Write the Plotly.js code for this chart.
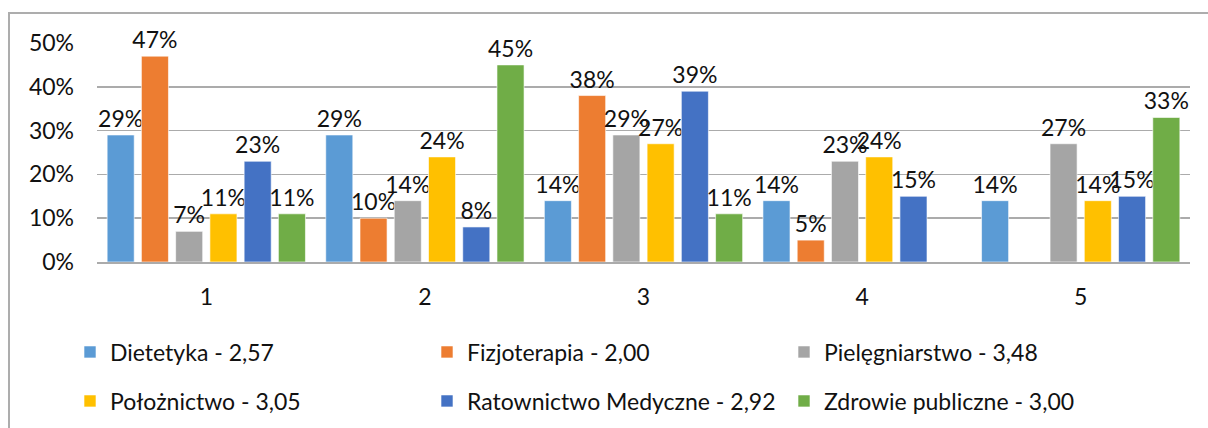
<!DOCTYPE html>
<html>
<head>
<meta charset="utf-8">
<script src="https://cdn.plot.ly/plotly-3.0.1.min.js"></script>
<style>
html,body{margin:0;padding:0;overflow:hidden;background:#fff;}
#wrap{position:relative;width:1208px;height:428px;overflow:hidden;}
#chart{width:1208px;height:428px;}
#frame{position:absolute;left:8px;top:12px;width:1400px;height:600px;border:2px solid #ADADAD;pointer-events:none;}
</style>
</head>
<body>
<div id="wrap"><div id="chart"></div><div id="frame"></div></div>
<script>
var categories = ['1', '2', '3', '4', '5'];
var seriesNames = ['Dietetyka - 2,57', 'Fizjoterapia - 2,00', 'Pielęgniarstwo - 3,48',
                   'Położnictwo - 3,05', 'Ratownictwo Medyczne - 2,92', 'Zdrowie publiczne - 3,00'];
var dietetyka      = [0.29, 0.29, 0.14, 0.14, 0.14];
var fizjoterapia   = [0.47, 0.10, 0.38, 0.05, null];
var pielegniarstwo = [0.07, 0.14, 0.29, 0.23, 0.27];
var poloznictwo    = [0.11, 0.24, 0.27, 0.24, 0.14];
var ratownictwo    = [0.23, 0.08, 0.39, 0.15, 0.15];
var zdrowie        = [0.11, 0.45, 0.11, null, 0.33];
var yTicks = [0, 0.1, 0.2, 0.3, 0.4, 0.5];

var values = [dietetyka, fizjoterapia, pielegniarstwo, poloznictwo, ratownictwo, zdrowie];
var colors = ['#5B9BD5', '#ED7D31', '#A5A5A5', '#FFC000', '#4472C4', '#70AD47'];
var FONT = 'Lato, "Open Sans", sans-serif';
var TXT = '#111111';
var FS = 23;

var traces = values.map(function (v, i) {
  return {
    type: 'bar',
    name: seriesNames[i],
    x: categories,
    y: v,
    marker: {color: colors[i], line: {color: 'rgba(255,255,255,0.6)', width: 1}},
    text: v.map(function (d) { return d === null ? '' : Math.round(d * 100) + '%'; }),
    textposition: 'outside',
    constraintext: 'none',
    cliponaxis: false,
    textfont: {family: FONT, size: FS, color: TXT},
    hoverinfo: 'skip',
    legend: i < 3 ? 'legend' : 'legend2'
  };
});

var legendCommon = {
  orientation: 'h',
  xref: 'container', yref: 'container',
  x: 70 / 1208,
  xanchor: 'left', yanchor: 'middle',
  entrywidth: 312, entrywidthmode: 'pixels',
  font: {family: FONT, size: FS, color: TXT},
  bgcolor: 'rgba(0,0,0,0)',
  traceorder: 'normal'
};

var layout = {
  width: 1208, height: 428,
  margin: {l: 97, r: 18, t: 43, b: 166, pad: 0},
  paper_bgcolor: '#ffffff', plot_bgcolor: '#ffffff',
  barmode: 'group',
  bargap: 0.06,
  bargroupgap: 0.21,
  showlegend: true,
  xaxis: {
    type: 'category',
    showgrid: false,
    showline: true, linecolor: '#ABABAB', linewidth: 1.5,
    ticks: '', ticklabelstandoff: 14,
    tickfont: {family: FONT, size: FS, color: TXT},
    fixedrange: true
  },
  yaxis: {
    range: [0, 0.5],
    tickvals: yTicks,
    tickformat: '.0%',
    showgrid: true, gridcolor: '#ABABAB', gridwidth: 1.5,
    zeroline: false,
    showline: false,
    ticks: '', ticklabelstandoff: 22,
    tickfont: {family: FONT, size: FS, color: TXT},
    fixedrange: true
  },
  legend: Object.assign({}, legendCommon, {y: 1 - 352 / 428}),
  legend2: Object.assign({}, legendCommon, {y: 1 - 401 / 428})
};

Plotly.newPlot('chart', traces, layout, {displayModeBar: false, staticPlot: true});
</script>
</body>
</html>
